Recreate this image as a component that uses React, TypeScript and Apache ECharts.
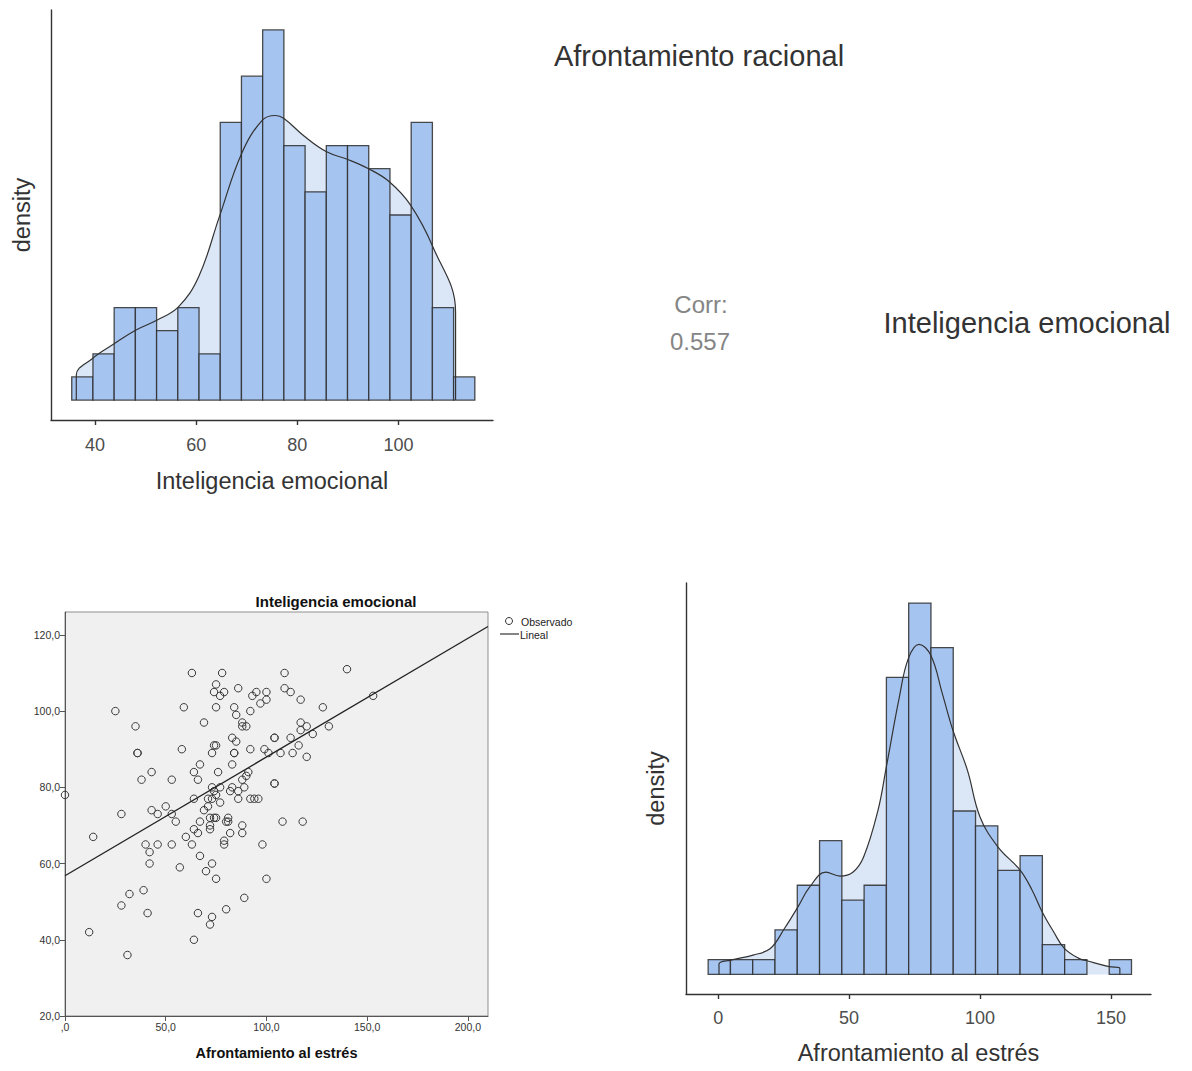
import React, { useEffect, useRef } from 'react';
import * as echarts from 'echarts';

const FONT = '"Liberation Sans", Arial, Helvetica, sans-serif';

// ---- Top-left histogram: Inteligencia emocional ----
const ieBinStart = 35.4;
const ieBinWidth = 4.195;
const ieCounts = [1, 2, 4, 4, 3, 4, 2, 12, 14, 16, 11, 9, 11, 11, 10, 8, 12, 4, 1];
const ieDensityX = [36.3, 36.3, 39.5, 43.7, 48.1, 52.3, 56.5, 60.5, 64.6, 69.0, 73.1, 75.7, 77.3, 81.4, 85.8, 90.0, 94.1, 98.2, 102.4, 106.8, 111.3, 111.3];
const ieDensityY = [0, 1.08, 1.8, 2.42, 3.03, 3.46, 4.03, 5.33, 7.93, 10.66, 12.1, 12.3, 12.18, 11.4, 10.73, 10.4, 10.0, 9.44, 8.43, 6.63, 3.82, 0];
const ieTicks = [40, 60, 80, 100];

// ---- Bottom-right histogram: Afrontamiento al estrés ----
const aeBinStart = -3.84;
const aeBinWidth = 8.51;
const aeCounts = [1, 1, 1, 3, 6, 9, 5, 6, 20, 25, 22, 11, 10, 7, 8, 2, 1, 0, 1];
const aeDensityX = [0.3, 0.3, 4.8, 13.3, 19.9, 25.3, 30.4, 34.9, 41.1, 46.5, 51.4, 55.5, 61.0, 64.2, 69.2, 72.6, 76.7, 81.2, 85.6, 89.7, 95.2, 100.0, 106.8, 115.3, 119.9, 123.7, 128.1, 132.2, 137.7, 140.8, 149.3, 153.4, 153.4];
const aeDensityY = [0, 0.7, 0.96, 1.3, 1.74, 3.09, 4.53, 5.87, 6.88, 6.62, 6.88, 7.89, 11.03, 13.95, 18.68, 21.26, 22.22, 21.48, 18.9, 16.4, 13.74, 10.6, 8.59, 7.02, 5.67, 4.22, 2.87, 1.75, 1.08, 0.92, 0.52, 0.4, 0];
const aeTicks = [0, 50, 100, 150];

// ---- Bottom-left scatter (SPSS) ----
const scatterPoints = [
  [63, 110], [78, 110], [109, 110], [140, 111], [75, 107], [74, 105], [79, 105], [77, 104],
  [86, 106], [95, 105], [93, 104], [100, 105], [100, 103], [97, 102], [109, 106], [112, 105],
  [117, 103], [153, 104], [128, 101], [92, 100], [84, 101], [85, 99], [75, 101], [59, 101],
  [25, 100], [69, 97], [88, 97], [88, 96], [90, 96], [35, 96], [117, 97], [117, 95],
  [120, 96], [131, 96], [123, 94], [112, 93], [104, 93], [104, 93], [83, 93], [85, 92],
  [74, 91], [75, 91], [36, 89], [36, 89], [58, 90], [73, 89], [84, 89], [84, 89],
  [92, 90], [99, 90], [101, 89], [107, 89], [113, 89], [116, 91], [120, 88], [67, 86],
  [83, 86], [43, 84], [64, 84], [76, 84], [91, 84], [90, 83], [38, 82], [53, 82],
  [66, 82], [88, 82], [104, 81], [104, 81], [73, 80], [77, 80], [83, 80], [89, 80],
  [82, 79], [86, 79], [74, 79], [75, 78], [73, 77], [71, 77], [64, 77], [86, 77],
  [92, 77], [94, 77], [96, 77], [0, 78], [77, 76], [50, 75], [43, 74], [46, 73],
  [53, 73], [28, 73], [69, 74], [71, 75], [55, 71], [67, 71], [72, 72], [74, 72],
  [75, 72], [81, 72], [80, 71], [81, 71], [72, 70], [72, 69], [88, 70], [108, 71],
  [118, 71], [64, 69], [66, 68], [82, 68], [88, 68], [14, 67], [60, 67], [79, 66],
  [79, 65], [40, 65], [46, 65], [53, 65], [63, 65], [98, 65], [42, 63], [67, 62],
  [42, 60], [73, 60], [57, 59], [70, 58], [75, 56], [100, 56], [39, 53], [32, 52],
  [89, 51], [28, 49], [80, 48], [41, 47], [66, 47], [73, 46], [72, 44], [12, 42],
  [64, 40], [31, 36],
];
const fitLine = [[0, 56.8], [210, 122.2]];
const scatterXTicks = [0, 50, 100, 150, 200];
const scatterYTicks = [20, 40, 60, 80, 100, 120];
const corrValue = '0.557';

const spssFmt = (v: number) => (v === 0 ? ',0' : v.toFixed(1).replace('.', ','));

function histBars(start: number, width: number, counts: number[]) {
  return counts.map((c, i) => [start + i * width, start + (i + 1) * width, c]);
}

function zipXY(xs: number[], ys: number[]) {
  return xs.map((x, i) => [x, ys[i]]);
}

const barRender = (params: any, api: any) => {
  const c = api.value(2);
  if (!c) return null;
  const p0 = api.coord([api.value(0), 0]);
  const p1 = api.coord([api.value(1), c]);
  return {
    type: 'rect',
    shape: { x: p0[0], y: p1[1], width: p1[0] - p0[0], height: p0[1] - p1[1] },
    style: { fill: '#a6c4f0', stroke: 'rgba(45,45,45,0.85)', lineWidth: 1.3 },
  };
};

function ggXAxis(grid: number, min: number, max: number, ticks: number[], name: string, nameGap: number, margin: number) {
  return {
    type: 'value', gridIndex: grid, min, max,
    axisLine: { show: true, onZero: false, lineStyle: { color: '#333', width: 1.4 } },
    axisTick: { show: true, customValues: ticks, length: 5, lineStyle: { color: '#333', width: 1.4 } },
    axisLabel: { customValues: ticks, fontSize: 18, color: '#4d4d4d', margin, fontFamily: FONT },
    splitLine: { show: false },
    name, nameLocation: 'middle', nameGap, nameMoveOverlap: false,
    nameTextStyle: { fontSize: 23.5, color: '#333', fontFamily: FONT },
  };
}

function ggYAxis(grid: number, min: number, max: number, nameGap: number) {
  return {
    type: 'value', gridIndex: grid, min, max,
    axisLine: { show: true, onZero: false, lineStyle: { color: '#333', width: 1.4 } },
    axisTick: { show: false }, axisLabel: { show: false }, splitLine: { show: false },
    name: 'density', nameLocation: 'middle', nameGap, nameMoveOverlap: false,
    nameTextStyle: { fontSize: 23.5, color: '#333', fontFamily: FONT },
  };
}

export default function App() {
  const ref = useRef<HTMLDivElement>(null);
  useEffect(() => {
    if (!ref.current) return;
    const chart = echarts.init(ref.current, undefined, { renderer: 'svg' });
    const ieDensity = zipXY(ieDensityX, ieDensityY);
    const aeDensity = zipXY(aeDensityX, aeDensityY);
    const option: any = {
      animation: false,
      backgroundColor: '#ffffff',
      textStyle: { fontFamily: FONT },
      grid: [
        { left: 51, top: 10, width: 442, height: 410, outerBoundsMode: 'none' },
        { left: 65, top: 612, width: 423, height: 404, show: true, backgroundColor: '#f0f0f0', borderColor: '#8f8f8f', borderWidth: 1, outerBoundsMode: 'none' },
        { left: 686, top: 583, width: 465, height: 411, outerBoundsMode: 'none' },
      ],
      xAxis: [
        ggXAxis(0, 31.3, 118.7, ieTicks, 'Inteligencia emocional', 49, 16),
        {
          type: 'value', gridIndex: 1, min: 0, max: 210,
          axisLine: { show: true, onZero: false, lineStyle: { color: '#555', width: 1 } },
          axisTick: { show: true, customValues: scatterXTicks, length: 5, lineStyle: { color: '#555' } },
          axisLabel: { customValues: scatterXTicks, formatter: spssFmt, fontSize: 10.5, color: '#333', margin: 5, fontFamily: FONT },
          splitLine: { show: false },
          name: 'Afrontamiento al estrés', nameLocation: 'middle', nameGap: 29, nameMoveOverlap: false,
          nameTextStyle: { fontSize: 14.5, fontWeight: 'bold', color: '#111', fontFamily: FONT },
        },
        ggXAxis(2, -12.3, 165.3, aeTicks, 'Afrontamiento al estrés', 47, 15),
      ],
      yAxis: [
        ggYAxis(0, -0.86, 16.86, 17),
        {
          type: 'value', gridIndex: 1, min: 20, max: 126,
          axisLine: { show: true, onZero: false, lineStyle: { color: '#555', width: 1 } },
          axisTick: { show: true, customValues: scatterYTicks, length: 5, lineStyle: { color: '#555' } },
          axisLabel: { customValues: scatterYTicks, formatter: spssFmt, fontSize: 10.5, color: '#333', margin: 5, fontFamily: FONT },
          splitLine: { show: false },
        },
        ggYAxis(2, -1.32, 26.35, 18),
      ],
      series: [
        // top-left
        { type: 'line', xAxisIndex: 0, yAxisIndex: 0, data: ieDensity, smooth: 0.4, symbol: 'none', lineStyle: { width: 0 }, areaStyle: { color: '#dbe6f7', opacity: 1 }, z: 1, silent: true },
        { type: 'custom', xAxisIndex: 0, yAxisIndex: 0, data: histBars(ieBinStart, ieBinWidth, ieCounts), renderItem: barRender, z: 2, silent: true },
        { type: 'line', xAxisIndex: 0, yAxisIndex: 0, data: ieDensity, smooth: 0.4, symbol: 'none', lineStyle: { color: '#333', width: 1.2 }, z: 3, silent: true },
        // scatter
        { type: 'scatter', xAxisIndex: 1, yAxisIndex: 1, data: scatterPoints, symbol: 'circle', symbolSize: 7.5, itemStyle: { color: 'rgba(0,0,0,0)', borderColor: '#3a3a3a', borderWidth: 1, opacity: 1 }, z: 2, silent: true },
        { type: 'line', xAxisIndex: 1, yAxisIndex: 1, data: fitLine, symbol: 'none', lineStyle: { color: '#222', width: 1.3 }, z: 3, silent: true },
        // bottom-right
        { type: 'line', xAxisIndex: 2, yAxisIndex: 2, data: aeDensity, smooth: 0.4, symbol: 'none', lineStyle: { width: 0 }, areaStyle: { color: '#dbe6f7', opacity: 1 }, z: 1, silent: true },
        { type: 'custom', xAxisIndex: 2, yAxisIndex: 2, data: histBars(aeBinStart, aeBinWidth, aeCounts), renderItem: barRender, z: 2, silent: true },
        { type: 'line', xAxisIndex: 2, yAxisIndex: 2, data: aeDensity, smooth: 0.4, symbol: 'none', lineStyle: { color: '#333', width: 1.2 }, z: 3, silent: true },
      ],
      graphic: [
        { type: 'text', x: 699, y: 56, style: { text: 'Afrontamiento racional', fontSize: 29, fontFamily: FONT, fill: '#333', align: 'center', verticalAlign: 'middle' } },
        { type: 'text', x: 701, y: 304, style: { text: 'Corr:', fontSize: 24, fontFamily: FONT, fill: '#858585', align: 'center', verticalAlign: 'middle' } },
        { type: 'text', x: 700, y: 341, style: { text: corrValue, fontSize: 24, fontFamily: FONT, fill: '#858585', align: 'center', verticalAlign: 'middle' } },
        { type: 'text', x: 1027, y: 323, style: { text: 'Inteligencia emocional', fontSize: 29, fontFamily: FONT, fill: '#333', align: 'center', verticalAlign: 'middle' } },
        { type: 'text', x: 336, y: 601, style: { text: 'Inteligencia emocional', fontSize: 15, fontWeight: 'bold', fontFamily: FONT, fill: '#111', align: 'center', verticalAlign: 'middle' } },
        { type: 'circle', shape: { cx: 509, cy: 621, r: 3.5 }, style: { fill: 'none', stroke: '#333', lineWidth: 1 } },
        { type: 'text', x: 521, y: 622, style: { text: 'Observado', fontSize: 10.5, fontFamily: FONT, fill: '#222', align: 'left', verticalAlign: 'middle' } },
        { type: 'line', shape: { x1: 500, y1: 634, x2: 519, y2: 634 }, style: { stroke: '#333', lineWidth: 1.2 } },
        { type: 'text', x: 520, y: 634.5, style: { text: 'Lineal', fontSize: 10.5, fontFamily: FONT, fill: '#222', align: 'left', verticalAlign: 'middle' } },
      ],
    };
    chart.setOption(option);
    return () => chart.dispose();
  }, []);
  return <div ref={ref} style={{ position: 'fixed', left: 0, top: 0, width: 1192, height: 1071, background: '#fff' }} />;
}
